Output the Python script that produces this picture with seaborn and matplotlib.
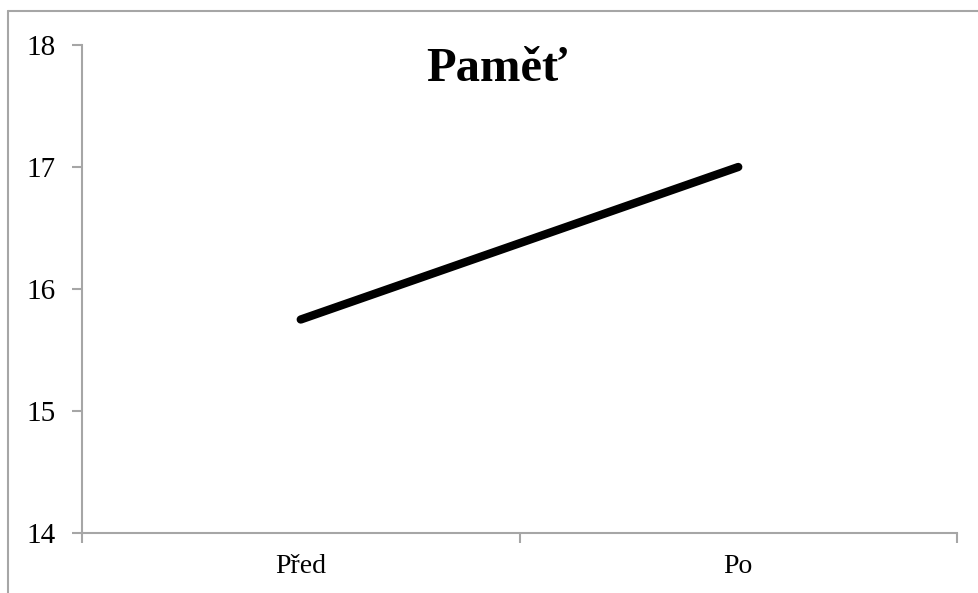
import numpy as np
import pandas as pd
import matplotlib
matplotlib.use("Agg")
import matplotlib.pyplot as plt
from matplotlib.lines import Line2D
from matplotlib.ticker import FixedLocator
import seaborn as sns

# data
phases = ["Před", "Po"]
memory = [15.75, 17.0]
y_ticks = [14, 15, 16, 17, 18]

df = pd.DataFrame({"phase": phases, "memory": memory})

sns.set_style("white")
plt.rcParams["font.family"] = ["Liberation Serif", "DejaVu Serif"]
plt.rcParams["text.color"] = "black"
plt.rcParams["xtick.labelcolor"] = "black"
plt.rcParams["ytick.labelcolor"] = "black"

fig = plt.figure(figsize=(9.79, 5.93), dpi=100)
ax = fig.add_axes([82 / 979, 1 - 533 / 593, (957 - 82) / 979, (533 - 45) / 593])

sns.lineplot(data=df, x="phase", y="memory", ax=ax, color="black",
             linewidth=6, solid_capstyle="round", sort=False)

grey = "#a6a6a6"
ax.set_xlim(-0.5, 1.5)
ax.set_ylim(14, 18)
ax.set_yticks(y_ticks)
ax.set_xticks([0, 1])
ax.set_xticklabels(phases)
ax.xaxis.set_minor_locator(FixedLocator([-0.5, 0.5, 1.5]))
ax.tick_params(axis="x", which="major", length=0, labelsize=20, pad=15)
ax.tick_params(axis="x", which="minor", length=7, width=1.5, color=grey, bottom=True)
ax.tick_params(axis="y", length=7, width=1.5, color=grey, labelsize=21, pad=12, left=True)
ax.set_xlabel("")
ax.set_ylabel("")
for side in ["top", "right"]:
    ax.spines[side].set_visible(False)
for side in ["left", "bottom"]:
    ax.spines[side].set_color(grey)
    ax.spines[side].set_linewidth(1.5)

fig.text(497 / 979, 1 - 69 / 593, "Paměť", ha="center", va="center",
         fontsize=35, fontweight="bold", color="black")

# outer chart frame (cut off at right and bottom in the reference)
fig.add_artist(Line2D([8 / 979, 8 / 979], [0, 1 - 11 / 593], color=grey, lw=1.5,
                      transform=fig.transFigure))
fig.add_artist(Line2D([8 / 979, 1], [1 - 11 / 593, 1 - 11 / 593], color=grey, lw=1.5,
                      transform=fig.transFigure))

fig.savefig("out.png", dpi=100)
